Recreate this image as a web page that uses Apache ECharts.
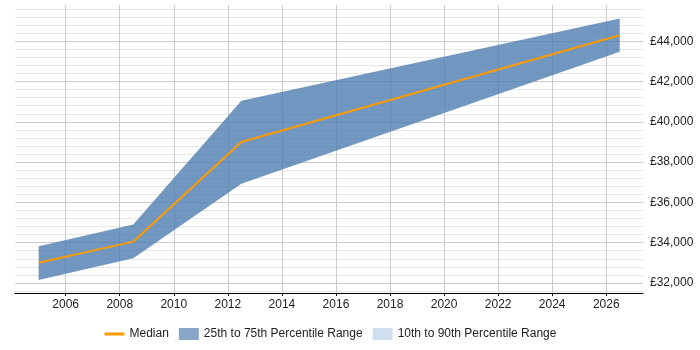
<!DOCTYPE html>
<html>
<head>
<meta charset="utf-8">
<script src="https://cdn.jsdelivr.net/npm/echarts@6/dist/echarts.min.js"></script>
<style>
  html, body { margin: 0; padding: 0; background: #fff; }
  #chart { width: 700px; height: 350px; }
</style>
</head>
<body>
<div id="chart"></div>
<script>
var years = [2005, 2008.5, 2012.5, 2026.5];
var p25 = [32150, 33225, 36925, 43475];
var median = [33000, 34050, 39000, 44300];
var p75 = [33825, 34900, 41050, 45125];

var yearTicks = [2006, 2008, 2010, 2012, 2014, 2016, 2018, 2020, 2022, 2024, 2026];
var salaryLabels = [32000, 34000, 36000, 38000, 40000, 42000, 44000];
var salaryGrid = [];
for (var g = 31600; g <= 45600; g += 400) salaryGrid.push(g);

var ink = '#222';
var bandColor = 'rgba(74, 123, 176, 0.78)';

var chart = echarts.init(document.getElementById('chart'), null, { renderer: 'canvas' });

function pairs(xs, ys) {
  return xs.map(function(x, i) { return [x, ys[i]]; });
}

// one polygon: upper edge left to right, lower edge back
function renderBand(params, api) {
  if (params.dataIndex !== 0) return null;
  var pts = [];
  for (var i = 0; i < years.length; i++) pts.push(api.coord([years[i], p75[i]]));
  for (var j = years.length - 1; j >= 0; j--) pts.push(api.coord([years[j], p25[j]]));
  return { type: 'polygon', shape: { points: pts }, style: { fill: bandColor } };
}

chart.setOption({
  animation: false,
  textStyle: { fontFamily: 'Liberation Sans, Arial, sans-serif' },
  grid: { left: 15, right: 57, top: 5, bottom: 57, containLabel: false },
  legend: {
    left: 98,
    top: 323,
    itemWidth: 20,
    itemHeight: 12,
    itemGap: 10,
    textStyle: { color: ink, fontSize: 12 },
    data: [
      { name: 'Median', itemStyle: { opacity: 0 }, lineStyle: { width: 3, color: '#ff9a00' } },
      { name: '25th to 75th Percentile Range', icon: 'rect', itemStyle: { color: '#88a6c8', borderWidth: 0 } },
      { name: '10th to 90th Percentile Range', icon: 'rect', itemStyle: { color: '#cfdff0', borderWidth: 0 } }
    ]
  },
  xAxis: {
    type: 'value',
    min: 2004.125,
    max: 2027.36,
    axisLine: { lineStyle: { color: '#000', width: 1 } },
    axisTick: { show: true, length: 3, customValues: yearTicks, lineStyle: { color: '#000' } },
    axisLabel: {
      customValues: yearTicks,
      color: ink,
      fontSize: 12,
      margin: 6,
      formatter: function(v) { return String(v); }
    },
    splitLine: { show: true, lineStyle: { color: '#cccccc', width: 1 } }
  },
  yAxis: {
    type: 'value',
    position: 'right',
    min: 31500,
    max: 45800,
    axisLine: { show: false },
    axisTick: { show: false, customValues: salaryGrid },
    axisLabel: {
      customValues: salaryLabels,
      color: ink,
      fontSize: 12,
      margin: 7,
      formatter: function(v) { return '£' + v.toLocaleString('en-GB'); }
    },
    splitLine: {
      show: true,
      lineStyle: { color: ['#e6e6e6', '#cccccc', '#e6e6e6', '#e6e6e6', '#e6e6e6'], width: 1 }
    }
  },
  series: [
    {
      name: '25th to 75th Percentile Range',
      type: 'custom',
      data: pairs(years, p75),
      renderItem: renderBand,
      itemStyle: { color: '#88a6c8' },
      silent: true
    },
    {
      name: '10th to 90th Percentile Range',
      type: 'line',
      data: [],
      symbol: 'none',
      itemStyle: { color: '#cfdff0' }
    },
    {
      name: 'Median',
      type: 'line',
      data: pairs(years, median),
      symbol: 'none',
      itemStyle: { color: '#ff9a00' },
      lineStyle: { color: '#ff9a00', width: 2 }
    }
  ]
});
</script>
</body>
</html>
